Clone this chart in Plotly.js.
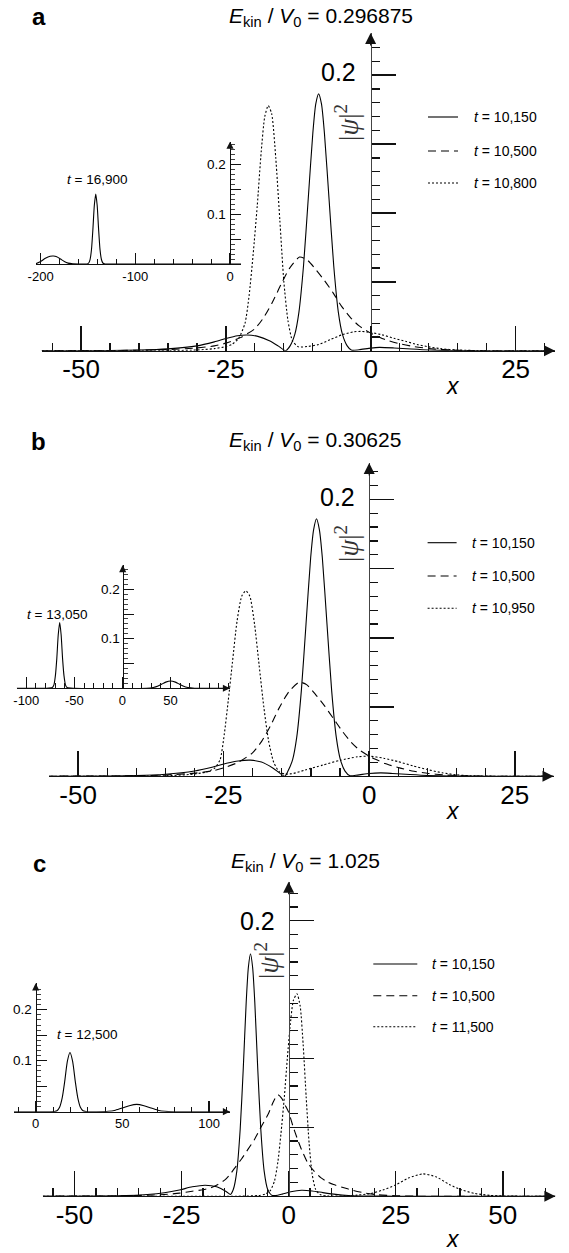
<!DOCTYPE html>
<html><head><meta charset="utf-8">
<script src="https://cdn.plot.ly/plotly-3.0.1.min.js"></script>
<style>html,body{margin:0;padding:0;background:#fff}</style>
</head><body><div id="chart" style="width:569px;height:1253px"></div>
<script>
// ---------------- DATA ----------------
// Panel a : E_kin/V0 = 0.296875
const aSolidX = [-56.8,-45,-40,-35,-30,-27,-25,-23,-21.4,-19.5,-17.5,-16,-14.7,-13.9,-13.1,-12.4,-11.6,-10.8,-10.0,-9.5,-9.0,-8.5,-8.0,-7.2,-6.4,-5.6,-4.9,-4.1,-3.3,-2,0,1.5,4,7,10,14,20,31.8];
const aSolidY = [0,0.0001,0.0004,0.0013,0.0035,0.0064,0.0088,0.0108,0.0114,0.0104,0.0072,0.0035,0.0,0.0037,0.012,0.028,0.062,0.110,0.158,0.179,0.1865,0.179,0.158,0.110,0.062,0.028,0.012,0.0037,0.0003,0.0007,0.0019,0.0024,0.002,0.0012,0.0005,0.0001,0,0];
const aDashX = [-56.8,-40,-35,-30,-27,-25,-22.5,-20,-18.5,-17,-15.5,-14,-12.3,-11,-9.5,-8,-6.5,-5,-3.5,-2,0,1,2.5,5,7.5,10,12.5,15,20,31.8];
const aDashY = [0,0.0003,0.0008,0.002,0.0035,0.0055,0.0095,0.016,0.024,0.035,0.048,0.060,0.068,0.066,0.059,0.051,0.042,0.032,0.024,0.018,0.0128,0.0108,0.008,0.005,0.003,0.0016,0.0008,0.0003,0,0];
const aDotX = [-56.8,-35,-30,-27,-25,-24,-22.8,-21.7,-21.0,-20.3,-19.6,-18.9,-18.3,-17.7,-17.1,-16.4,-15.7,-15.0,-14.3,-13.5,-12.5,-11,-9,-7,-5,-3,-1.5,0,2,4,6,8,10,12,15,20,31.8];
const aDotY = [0,0,0.0005,0.0015,0.003,0.0045,0.009,0.02,0.04,0.07,0.105,0.145,0.17,0.178,0.172,0.14,0.095,0.05,0.022,0.007,0.0028,0.003,0.0045,0.008,0.0115,0.0137,0.014,0.0132,0.0115,0.009,0.0068,0.0045,0.0028,0.0015,0.0005,0,0];
const aInsetX = [-205,-200,-195,-190,-186.5,-183,-179,-175,-171,-166,-160,-151,-149.3,-147.8,-146.3,-144.8,-143.3,-141.8,-140.3,-138.8,-137.3,-135.8,-134.3,-132,-120,11.6];
const aInsetY = [0.0005,0.005,0.0115,0.0155,0.016,0.0145,0.01,0.005,0.0018,0.0004,0,0,0.002,0.009,0.029,0.07,0.118,0.1406,0.118,0.07,0.029,0.009,0.002,0,0,0];
const aTimes = ['10,150','10,500','10,800'];
const aInsetTime = '16,900';
const aTitleValue = '0.296875';

// Panel b : E_kin/V0 = 0.30625
const bSolidX = [-55.4,-45,-40,-35,-30,-27,-24.5,-22.5,-20.4,-18.5,-16.5,-14.5,-13.95,-13.15,-12.45,-11.65,-10.85,-10.05,-9.55,-9.05,-8.55,-8.05,-7.25,-6.45,-5.65,-4.95,-4.15,-3.3,-2,0,2,4,7,10,14,20,31.7];
const bSolidY = [0,0.0001,0.0004,0.0014,0.0038,0.0065,0.0093,0.011,0.0116,0.0102,0.0058,0,0.0037,0.012,0.028,0.062,0.110,0.158,0.178,0.186,0.178,0.158,0.110,0.062,0.028,0.012,0.0037,0.0003,0.0008,0.002,0.0024,0.002,0.0012,0.0005,0.0001,0,0];
const bDashX = [-55.4,-40,-35,-30,-27,-25,-22.5,-20,-18.5,-17,-15.5,-13.8,-12,-10.7,-9.2,-7.7,-6.2,-4.7,-3.2,-1.7,0,1.2,2.7,5.2,7.7,10.2,12.7,15.2,20,31.7];
const bDashY = [0,0.0003,0.0009,0.0022,0.0038,0.006,0.01,0.017,0.025,0.036,0.049,0.061,0.068,0.066,0.059,0.051,0.042,0.033,0.025,0.019,0.0145,0.012,0.0092,0.006,0.0036,0.002,0.001,0.0004,0,0];
const bDotX = [-55.4,-40,-35,-31,-28,-26.5,-25.6,-24.9,-24.2,-23.5,-22.7,-21.9,-21.2,-20.5,-19.7,-18.9,-18.1,-17.3,-16.4,-15.4,-14.4,-13,-11,-8,-5,-2,0,2.5,5,7.5,10,12.5,15,18,22,31.7];
const bDotY = [0,0,0.0003,0.0012,0.003,0.006,0.012,0.03,0.055,0.082,0.112,0.13,0.134,0.13,0.11,0.08,0.05,0.026,0.01,0.003,0.0015,0.002,0.0045,0.008,0.0115,0.014,0.0145,0.013,0.0105,0.0075,0.0048,0.0025,0.001,0.0002,0,0];
const bInsetX = [-110,-80,-73,-71.3,-69.8,-68.3,-66.8,-65.3,-63.8,-62.3,-60.8,-59.3,-57.6,-50,25,32,37,41,45,50,55,59,63,68,75,80,111.8];
const bInsetY = [0,0,0.0015,0.007,0.025,0.06,0.108,0.133,0.108,0.06,0.025,0.007,0.0015,0,0,0.0015,0.0045,0.0085,0.0125,0.0148,0.0125,0.0085,0.0045,0.0015,0.0002,0,0];
const bTimes = ['10,150','10,500','10,950'];
const bInsetTime = '13,050';
const bTitleValue = '0.30625';

// Panel c : E_kin/V0 = 1.025
const cSolidX = [-57.4,-45,-38,-33,-29,-25.5,-22.5,-19.5,-16.8,-14.5,-13.6,-12.9,-12.1,-11.3,-10.6,-9.9,-9.4,-8.9,-8.4,-7.9,-7.2,-6.5,-5.7,-4.9,-4.0,-3,-1.5,0.5,3,5.5,8,11,14,18,25,62.3];
const cSolidY = [0,0.0001,0.0004,0.0012,0.0025,0.0045,0.0068,0.008,0.0068,0.0032,0.0012,0.005,0.018,0.049,0.092,0.141,0.166,0.176,0.166,0.141,0.092,0.049,0.018,0.005,0.0008,0.0005,0.0015,0.0032,0.0043,0.0038,0.0026,0.0013,0.0005,0.0001,0,0];
const cDashX = [-57.4,-40,-33,-29,-25.5,-22.5,-20,-18.2,-16.5,-14.8,-13.5,-12.3,-11,-9.5,-8,-6.3,-4.7,-3.5,-2.5,-1.6,-0.8,0,1,2,3,4.5,6,7.5,9,10.5,12.5,15,18,21,25,30,62.3];
const cDashY = [0,0.0002,0.0007,0.0012,0.0022,0.0036,0.0047,0.006,0.0085,0.012,0.0165,0.0217,0.027,0.034,0.041,0.051,0.06,0.069,0.0737,0.071,0.066,0.061,0.051,0.042,0.034,0.024,0.018,0.0135,0.0105,0.0085,0.0065,0.0043,0.0022,0.001,0.0003,0,0];
const cDotX = [-57.4,-12,-7,-5.5,-4.3,-3.3,-2.5,-1.8,-1.0,-0.3,0.4,1.1,1.95,2.7,3.4,4.1,4.8,5.5,6.3,7.3,9,13,16,19,22,25,28,31.4,34.5,37.5,40.5,43.5,47,51,55,62.3];
const cDotY = [0,0,0.0005,0.0015,0.004,0.011,0.025,0.045,0.072,0.1,0.125,0.142,0.147,0.138,0.11,0.072,0.038,0.016,0.005,0.0012,0.0002,0.0002,0.0008,0.0018,0.0045,0.0082,0.0132,0.0162,0.014,0.0085,0.0045,0.002,0.0006,0.0001,0,0];
const cInsetX = [-12.5,5,10.8,12.3,13.8,15.3,16.7,18.3,19.8,21.3,22.9,24.3,25.8,27.3,29,35,42,46,50,54,58.3,62.5,66.5,70.5,74.5,80,112];
const cInsetY = [0,0,0.0004,0.0018,0.0086,0.027,0.058,0.099,0.116,0.099,0.058,0.027,0.0086,0.0018,0.0004,0,0.0008,0.003,0.0072,0.0118,0.0144,0.0118,0.0072,0.003,0.0008,0,0];
const cTimes = ['10,150','10,500','11,500'];
const cInsetTime = '12,500';
const cTitleValue = '1.025';

// tick labels
const mainXTicksAB = [-50,-25,0,25];
const mainXTextAB = ['-50','-25','0','25'];
const mainXTicksC = [-50,-25,0,25,50];
const mainXTextC = ['-50','-25','0','25','50'];
const mainYLabelValue = 0.2;
const mainYLabelText = '0.2';
const insetYLabelValues = [0.1, 0.2];
const insetYLabelTexts = ['0.1', '0.2'];
const insetAXTicks = [-200,-100,0];
const insetAXText = ['-200','-100','0'];
const insetBXTicks = [-100,-50,0,50];
const insetBXText = ['-100','-50','0','50'];
const insetCXTicks = [0,50,100];
const insetCXText = ['0','50','100'];

// ---------------- LAYOUT HELPERS ----------------
const W = 569, H = 1253;
const fx = p => p / W;
const fy = p => 1 - p / H;
const F = 'Liberation Sans, Arial, Helvetica, sans-serif';
const INK = '#111';

function curve(x, y, xa, ya, dash){
  return {type:'scatter', mode:'lines', x:x, y:y, xaxis:xa, yaxis:ya,
    line:{color:'#000', width:1.1, dash:dash, shape:'spline', smoothing:0.6},
    hoverinfo:'skip', showlegend:false};
}
function mainX(p0, p1, range, anchor, vals, text){
  return {domain:[fx(p0), fx(p1)], range:range, anchor:anchor, fixedrange:true,
    showgrid:false, zeroline:false, showline:true, linecolor:INK, linewidth:1.2,
    ticks:'inside', ticklen:25, tickwidth:1.6, tickcolor:INK,
    tickmode:'array', tickvals:vals, ticktext:text, ticklabelstandoff:-5,
    tickfont:{family:F, size:26, color:'#000'},
    minor:{tickmode:'linear', tick0:0, dtick:5, ticks:'inside', ticklen:8, tickwidth:1.2, tickcolor:INK, showgrid:false}};
}
function mainY(pBottom, pTop, range, pos){
  return {domain:[fy(pBottom), fy(pTop)], range:range, anchor:'free', position:fx(pos), side:'left', fixedrange:true,
    showgrid:false, zeroline:false, showline:true, linecolor:'#444', linewidth:1.2,
    ticks:'inside', ticklen:24, tickwidth:1.6, tickcolor:INK,
    tickmode:'linear', tick0:0, dtick:0.05, showticklabels:false,
    minor:{tickmode:'linear', tick0:0, dtick:0.01, ticks:'inside', ticklen:8, tickwidth:1.2, tickcolor:INK, showgrid:false}};
}
function insetX(p0, p1, range, anchor, vals, text, minorStep){
  return {domain:[fx(p0), fx(p1)], range:range, anchor:anchor, fixedrange:true,
    showgrid:false, zeroline:false, showline:true, linecolor:INK, linewidth:1,
    ticks:'inside', ticklen:11, tickwidth:1.1, tickcolor:INK,
    tickmode:'array', tickvals:vals, ticktext:text, ticklabelstandoff:0,
    tickfont:{family:F, size:13, color:'#000'},
    minor:{tickmode:'linear', tick0:0, dtick:minorStep, ticks:'inside', ticklen:5, tickwidth:1, tickcolor:INK, showgrid:false}};
}
function insetY(pBottom, pTop, range, pos){
  return {domain:[fy(pBottom), fy(pTop)], range:range, anchor:'free', position:fx(pos), side:'left', fixedrange:true,
    showgrid:false, zeroline:false, showline:true, linecolor:INK, linewidth:1,
    ticks:'inside', ticklen:10, tickwidth:1, tickcolor:INK,
    tickmode:'linear', tick0:0, dtick:0.05, showticklabels:false,
    minor:{tickmode:'linear', tick0:0, dtick:0.01, ticks:'inside', ticklen:4, tickwidth:0.8, tickcolor:INK, showgrid:false}};
}
function arrow(xref, yref, x, y, ax, ay, size){
  return {xref:xref, yref:yref, x:x, y:y, ax:ax, ay:ay, text:'', showarrow:true,
    arrowhead:2, arrowsize:size, arrowwidth:1.1, arrowcolor:INK, standoff:0};
}
function label(text, x, y, size, opts){
  return Object.assign({xref:'paper', yref:'paper', x:fx(x), y:fy(y), text:text, showarrow:false,
    font:{family:F, size:size, color:'#000'}, xanchor:'center', yanchor:'middle'}, opts||{});
}
// y tick label placed at a data value of a y axis, right-aligned at a pixel x
function yTickLabel(text, yref, value, rightPx, size, shiftPx){
  return {xref:'paper', yref:yref, x:fx(rightPx), y:value, text:text, showarrow:false,
    xanchor:'right', yanchor:'middle', yshift:shiftPx||0, font:{family:F, size:size, color:'#000'}};
}

// Panel geometry (pixels)
const P = {
  a:{x0:41.7, x1:555, xr:[-56.8,31.8], yb:350.7, yt:33, yr:[0,0.2307], ypos:370.6,
     ix0:36, ix1:241, ixr:[-204.9,11.6], iyb:264, iyt:141.7, iyr:[0,0.2456], iypos:230},
  b:{x0:49, x1:553.5, xr:[-55.0,31.66], yb:776.2, yt:463, yr:[0,0.2263], ypos:369.2,
     ix0:16.7, ix1:230, ixr:[-110,111.8], iyb:688.3, iyt:565, iyr:[0,0.249], iypos:122.7},
  c:{x0:42.8, x1:555.4, xr:[-57.4,62.3], yb:1196.2, yt:881.7, yr:[0,0.2283], ypos:288.6,
     ix0:14, ix1:230, ixr:[-12.5,112.1], iyb:1111.7, iyt:983.3, iyr:[0,0.2518], iypos:35.7}
};

const traces = [
  curve(aSolidX, aSolidY, 'x', 'y', 'solid'),
  curve(aDashX, aDashY, 'x', 'y', '8px,5px'),
  curve(aDotX, aDotY, 'x', 'y', '2px,2px'),
  curve(aInsetX, aInsetY, 'x2', 'y2', 'solid'),
  curve(bSolidX, bSolidY, 'x3', 'y3', 'solid'),
  curve(bDashX, bDashY, 'x3', 'y3', '8px,5px'),
  curve(bDotX, bDotY, 'x3', 'y3', '2px,2px'),
  curve(bInsetX, bInsetY, 'x4', 'y4', 'solid'),
  curve(cSolidX, cSolidY, 'x5', 'y5', 'solid'),
  curve(cDashX, cDashY, 'x5', 'y5', '8px,5px'),
  curve(cDotX, cDotY, 'x5', 'y5', '2px,2px'),
  curve(cInsetX, cInsetY, 'x6', 'y6', 'solid')
];

const layout = {
  width:W, height:H, margin:{l:0,r:0,t:0,b:0}, paper_bgcolor:'#fff', plot_bgcolor:'rgba(0,0,0,0)',
  showlegend:false, font:{family:F, color:'#000'},
  xaxis: mainX(P.a.x0, P.a.x1, P.a.xr, 'y', mainXTicksAB, mainXTextAB),
  yaxis: mainY(P.a.yb, P.a.yt, P.a.yr, P.a.ypos),
  xaxis2: insetX(P.a.ix0, P.a.ix1, P.a.ixr, 'y2', insetAXTicks, insetAXText, 20),
  yaxis2: insetY(P.a.iyb, P.a.iyt, P.a.iyr, P.a.iypos),
  xaxis3: mainX(P.b.x0, P.b.x1, P.b.xr, 'y3', mainXTicksAB, mainXTextAB),
  yaxis3: mainY(P.b.yb, P.b.yt, P.b.yr, P.b.ypos),
  xaxis4: insetX(P.b.ix0, P.b.ix1, P.b.ixr, 'y4', insetBXTicks, insetBXText, 10),
  yaxis4: insetY(P.b.iyb, P.b.iyt, P.b.iyr, P.b.iypos),
  xaxis5: mainX(P.c.x0, P.c.x1, P.c.xr, 'y5', mainXTicksC, mainXTextC),
  yaxis5: mainY(P.c.yb, P.c.yt, P.c.yr, P.c.ypos),
  xaxis6: insetX(P.c.ix0, P.c.ix1, P.c.ixr, 'y6', insetCXTicks, insetCXText, 10),
  yaxis6: insetY(P.c.iyb, P.c.iyt, P.c.iyr, P.c.iypos),
  annotations: [], shapes: []
};

const A = layout.annotations, S = layout.shapes;
const titleTxt = v => '<i>E</i><sub>kin</sub> / <i>V</i><sub>0</sub> = ' + v;
const psiTxt = '|<i>ψ</i>|<sup>2</sup>';
const psiFont = {family:'Liberation Serif, DejaVu Serif, serif', size:27, color:'#333'};

// panel letters and titles
A.push(label('<b>a</b>', 39, 16, 24));
A.push(label('<b>b</b>', 38, 441, 24));
A.push(label('<b>c</b>', 39, 863, 24));
A.push(label(titleTxt(aTitleValue), 227, 17, 21, {xanchor:'left'}));
A.push(label(titleTxt(bTitleValue), 227, 441, 21, {xanchor:'left'}));
A.push(label(titleTxt(cTitleValue), 229, 862, 21, {xanchor:'left'}));
// main y "0.2" labels
A.push(yTickLabel(mainYLabelText, 'y', mainYLabelValue, 358, 25, 3));
A.push(yTickLabel(mainYLabelText, 'y3', mainYLabelValue, 356.5, 25, 2));
A.push(yTickLabel(mainYLabelText, 'y5', mainYLabelValue, 276.5, 25, 0));
// inset y labels
insetYLabelValues.forEach((v,i)=>{
  A.push(yTickLabel(insetYLabelTexts[i], 'y2', v, 228, 13.5, 0));
  A.push(yTickLabel(insetYLabelTexts[i], 'y4', v, 122, 13.5, 0));
  A.push(yTickLabel(insetYLabelTexts[i], 'y6', v, 34, 13.5, 0));
});
// |psi|^2 labels
A.push(label(psiTxt, 347, 123, 27, {textangle:-90, font:psiFont}));
A.push(label(psiTxt, 347, 544, 27, {textangle:-90, font:psiFont}));
A.push(label(psiTxt, 267, 961, 27, {textangle:-90, font:psiFont}));
// x labels
A.push(label('<i>x</i>', 453, 385.5, 23));
A.push(label('<i>x</i>', 453, 810.5, 23));
A.push(label('<i>x</i>', 453, 1238.5, 23));
// inset time labels
A.push(label('<i>t</i> = ' + aInsetTime, 96.7, 179.3, 13.5));
A.push(label('<i>t</i> = ' + bInsetTime, 56.7, 614, 13.5));
A.push(label('<i>t</i> = ' + cInsetTime, 86.7, 1034, 13.5));

// axis arrows
[['x','y',P.a],['x3','y3',P.b],['x5','y5',P.c]].forEach(([xa,ya,p])=>{
  A.push(arrow(xa, ya, p.xr[1], 0, -14, 0, 2));
  A.push(arrow('paper', ya, fx(p.ypos), p.yr[1], 0, 14, 2));
});
A.push(arrow('paper', 'y2', fx(P.a.iypos), P.a.iyr[1], 0, 8, 1.3));
A.push(arrow('paper', 'y4', fx(P.b.iypos), P.b.iyr[1], 0, 8, 1.3));
A.push(arrow('x4', 'y4', P.b.ixr[1], 0, -8, 0, 1.3));
A.push(arrow('paper', 'y6', fx(P.c.iypos), P.c.iyr[1], 0, 8, 1.3));
A.push(arrow('x6', 'y6', P.c.ixr[1], 0, -8, 0, 1.3));

// legends
const dashes = ['solid','8px,5px','2px,2px'];
function legend(times, lx0, lx1, tx, ys){
  times.forEach((t,i)=>{
    S.push({type:'line', xref:'paper', yref:'paper', x0:fx(lx0), x1:fx(lx1), y0:fy(ys[i]), y1:fy(ys[i]),
      line:{color:'#000', width:1.1, dash:dashes[i]}});
    A.push(label('<i>t</i> = ' + t, tx, ys[i], 14, {xanchor:'left'}));
  });
}
legend(aTimes, 428, 458, 472, [117, 151, 183]);
legend(bTimes, 427.6, 456.6, 470, [542.7, 576, 608.3]);
legend(cTimes, 373.3, 417.3, 430, [964, 995.7, 1026.7]);

Plotly.newPlot('chart', traces, layout, {staticPlot:true, displayModeBar:false});
</script></body></html>
